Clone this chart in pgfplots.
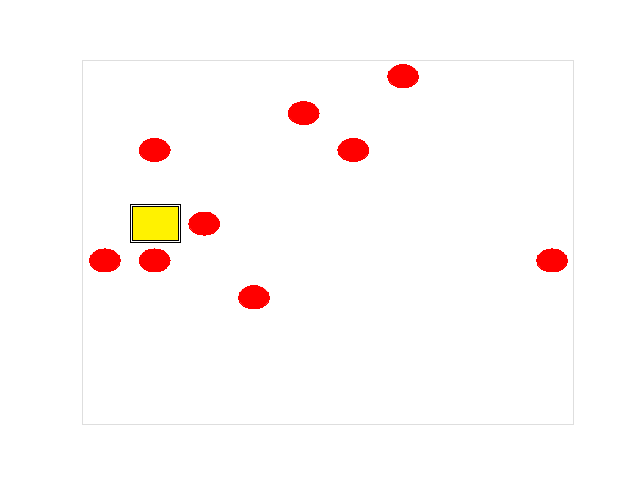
\documentclass[border=0pt]{standalone}
\usepackage{pgfplots}
\pgfplotsset{compat=1.18}
\definecolor{bord}{RGB}{222,222,222}
\begin{document}
\begin{tikzpicture}[x=1bp,y=1bp]
\begin{axis}[
  name=ax,
  scale only axis,
  width=491bp, height=364bp,
  xmin=-0.46, xmax=9.42, ymin=-0.44, ymax=9.44,
  axis line style={draw=bord, line width=0.8bp},
  xtick=\empty, ytick=\empty,
  clip=false,
]
\addplot[draw=black, line width=1bp, double=white, double distance=1bp, fill=yellow]
  coordinates {(0.53,4.50) (1.50,4.50) (1.50,5.50) (0.53,5.50)} -- cycle;
\addplot[only marks, mark=*, mark size=11.5bp,
  mark options={xscale=1.35, fill=red, draw=red, line width=0pt}]
  coordinates {(0,4) (1,4) (1,7) (2,5) (3,3) (4,8) (5,7) (6,9) (9,4)};
\end{axis}
\path[use as bounding box] ([xshift=-82bp,yshift=-56bp]ax.south west) rectangle ([xshift=67bp,yshift=60bp]ax.north east);
\end{tikzpicture}
\end{document}
